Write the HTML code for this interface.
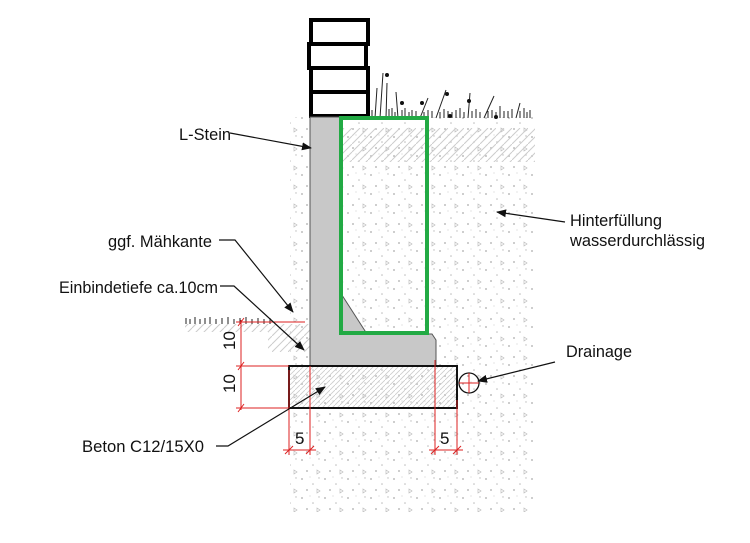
<!DOCTYPE html>
<html><head><meta charset="utf-8"><style>
html,body{margin:0;padding:0;background:#fff;width:750px;height:543px;overflow:hidden}
text{font-family:"Liberation Sans",sans-serif;font-size:17px;fill:#111}
</style></head><body>
<svg width="750" height="543" viewBox="0 0 750 543" xmlns="http://www.w3.org/2000/svg">
<defs>
<pattern id="dots" width="23" height="19" patternUnits="userSpaceOnUse">
<circle cx="3" cy="4" r="0.9" fill="#aaa"/><circle cx="14" cy="9" r="0.8" fill="#bbb"/><circle cx="8" cy="15" r="0.9" fill="#aaa"/><path d="M18 14 l3 2 l-3 2z" fill="none" stroke="#bbb" stroke-width="0.7"/><circle cx="20" cy="3" r="0.7" fill="#bbb"/><circle cx="11" cy="2" r="0.5" fill="#bbb"/>
</pattern>
<pattern id="herr" width="16" height="16" patternUnits="userSpaceOnUse">
<path d="M0 16 L16 0 M0 8 L8 0 M8 16 L16 8" stroke="#ccc" stroke-width="1"/>
</pattern>
<pattern id="hatch" width="5" height="5" patternUnits="userSpaceOnUse">
<path d="M0 5 L5 0" stroke="#ccc" stroke-width="0.8"/>
</pattern>
<marker id="ar" markerWidth="10" markerHeight="8" refX="9" refY="4" orient="auto" markerUnits="userSpaceOnUse"><path d="M0 0 L10 4 L0 8z" fill="#111"/></marker>
</defs>
<rect x="290" y="117" width="245" height="395" fill="url(#dots)"/>
<rect x="340" y="128" width="195" height="34" fill="url(#herr)"/>
<path d="M185 324 H310 V352 H268 V332 H185z" fill="url(#herr)"/>
<g stroke="#222" stroke-width="1">
<path d="M345 118 v-8 M349 118 v-6 M352 118 v-10 M356 118 v-7 M360 118 v-9 M364 118 v-6 M368 118 v-12 M372 118 v-8 M375 118 l2 -30 M380 118 l3 -45 M386 118 l1 -35 M389 118 v-9 M392 118 v-10 M395 118 v-6 M398 118 l-2 -26 M402 118 v-8 M405 118 v-10 M409 118 v-6 M412 118 v-8 M416 118 v-7 M420 118 l8 -20 M424 118 v-6 M428 118 v-8 M432 118 v-7 M436 118 l10 -28 M440 118 v-6 M444 118 v-9 M448 118 v-7 M452 118 v-6 M456 118 v-8 M460 118 v-10 M464 118 v-6 M468 118 l2 -25 M472 118 v-7 M476 118 v-9 M480 118 v-6 M484 118 l10 -22 M488 118 v-7 M492 118 v-8 M496 118 v-6 M500 118 v-12 M504 118 v-7 M508 118 v-7 M512 118 v-9 M516 118 l4 -15 M520 118 v-7 M524 118 v-10 M527 118 v-6 M530 118 v-8"/>
<path d="M186 324 v-6 M190 324 v-5 M195 324 v-7 M200 324 v-5 M205 324 v-6 M210 324 v-7 M216 324 v-5 M222 324 v-6 M228 324 v-7 M234 324 v-5 M240 324 v-6 M246 324 v-7 M252 324 v-5 M258 324 v-6 M264 324 v-5 M270 324 v-6"/>
</g>
<g fill="#111"><circle cx="387" cy="75" r="2"/><circle cx="359" cy="97" r="2"/><circle cx="402" cy="103" r="2"/><circle cx="447" cy="94" r="2"/><circle cx="469" cy="101" r="2"/><circle cx="496" cy="117" r="2"/><circle cx="450" cy="116" r="2"/><circle cx="422" cy="103" r="2"/></g>
<g fill="#fff" stroke="#000" stroke-width="4">
<rect x="311" y="20" width="57" height="24"/><rect x="309" y="44" width="57" height="24"/><rect x="311" y="68" width="57" height="24"/><rect x="311" y="92" width="57" height="24"/>
</g>
<path d="M310 117 H340 V292 L367 334 H432 L436 340 V366 H310z" fill="#c8c8c8" stroke="#555" stroke-width="1"/>
<rect x="341" y="118" width="86" height="215" fill="none" stroke="#22aa44" stroke-width="4"/>
<rect x="289" y="366" width="168" height="42" fill="url(#hatch)" stroke="#111" stroke-width="2"/>
<g stroke="#d22" stroke-width="1" fill="none">
<path d="M241 320 V410 M236 322 H305 M236 366 H289 M236 408 H289 M238 326 l6 -8 M238 370 l6 -8 M238 412 l6 -8"/>
<path d="M289 370 V455 M310 366 V455 M435 360 V455 M457 400 V455 M283 450 H316 M429 450 H463 M285 454 l8 -8 M306 454 l8 -8 M431 454 l8 -8 M453 454 l8 -8"/>
</g>
<text transform="translate(235,350) rotate(-90)" fill="#d22" font-size="13">10</text>
<text transform="translate(235,393) rotate(-90)" fill="#d22" font-size="13">10</text>
<text x="295" y="444" fill="#d22" font-size="13">5</text>
<text x="440" y="444" fill="#d22" font-size="13">5</text>
<circle cx="469" cy="383" r="10" fill="none" stroke="#111" stroke-width="1.3"/>
<path d="M459 383 H479 M469 373 V393" stroke="#d22" stroke-width="1"/>
<g stroke="#111" stroke-width="1.2" fill="none">
<path d="M230 133 L311 148" marker-end="url(#ar)"/>
<path d="M565 222 L497 212" marker-end="url(#ar)"/>
<path d="M219 240 H235 L293 312" marker-end="url(#ar)"/>
<path d="M220 286 H234 L304 350" marker-end="url(#ar)"/>
<path d="M555 362 L478 381" marker-end="url(#ar)"/>
<path d="M216 446 H228 L325 387" marker-end="url(#ar)"/>
</g>
<text x="179" y="140" textLength="52" lengthAdjust="spacingAndGlyphs">L-Stein</text>
<text x="108" y="247" textLength="104" lengthAdjust="spacingAndGlyphs">ggf. Mähkante</text>
<text x="59" y="293" textLength="159" lengthAdjust="spacingAndGlyphs">Einbindetiefe ca.10cm</text>
<text x="570" y="226" textLength="92" lengthAdjust="spacingAndGlyphs">Hinterfüllung</text>
<text x="570" y="246" textLength="135" lengthAdjust="spacingAndGlyphs">wasserdurchlässig</text>
<text x="566" y="357" textLength="66" lengthAdjust="spacingAndGlyphs">Drainage</text>
<text x="82" y="452" textLength="122" lengthAdjust="spacingAndGlyphs">Beton C12/15X0</text>
</svg>
</body></html>
